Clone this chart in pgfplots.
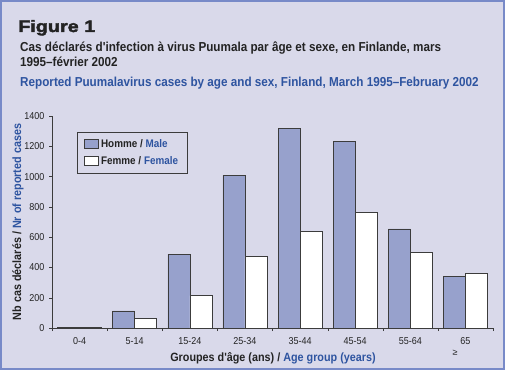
\documentclass[border=0pt]{standalone}
\usepackage{pgfplots}
\pgfplotsset{compat=1.18}
\usepackage{fontspec}
\setmainfont{Liberation Sans}
\newfontfamily\cond[FakeStretch=0.9]{Liberation Sans}
\newfontfamily\heavy[FakeBold=2.4,FakeStretch=1.2]{Liberation Sans}
\definecolor{bg}{RGB}{217,217,234}
\definecolor{frame}{RGB}{120,138,200}
\definecolor{male}{RGB}{151,161,204}
\definecolor{tblue}{RGB}{46,84,160}
\definecolor{txt}{RGB}{35,35,35}
\definecolor{edge}{RGB}{60,60,60}
\begin{document}
\begin{tikzpicture}[x=1pt,y=1pt]
\useasboundingbox (0,0) rectangle (505,370);
\fill[bg] (0,0) rectangle (505,370);
\draw[frame,line width=2pt] (1,1) rectangle (504,369);
% titles
\node[anchor=base west,inner sep=0,text=txt] at (18,338) {\heavy\fontsize{16.5}{18}\selectfont\bfseries Figure 1};
\node[anchor=base west,inner sep=0,text=txt] at (20,318) {\cond\fontsize{13}{15}\selectfont\bfseries Cas déclarés d'infection à virus Puumala par âge et sexe, en Finlande, mars};
\node[anchor=base west,inner sep=0,text=txt] at (20,303) {\cond\fontsize{13}{15}\selectfont\bfseries 1995–février 2002};
\node[anchor=base west,inner sep=0,text=tblue] at (20,283) {\cond\fontsize{13}{15}\selectfont\bfseries Reported Puumalavirus cases by age and sex, Finland, March 1995–February 2002};
% axis labels
\node[rotate=90,inner sep=0,text=txt] at (18,148) {\cond\fontsize{12}{14}\selectfont\bfseries Nb cas déclarés / \textcolor{tblue}{Nr of reported cases}};
\node[anchor=base,inner sep=0,text=txt] at (273,9) {\cond\fontsize{12}{14}\selectfont\bfseries Groupes d'âge (ans) / \textcolor{tblue}{Age group (years)}};
\node[inner sep=0,text=txt] at (455,17) {\fontsize{9}{10}\selectfont ≥};
\begin{axis}[
  at={(52pt,42pt)}, anchor=south west,
  scale only axis, width=441pt, height=212pt,
  xmin=-0.5, xmax=7.5, ymin=0, ymax=1400,
  axis x line*=bottom, axis y line*=left,
  axis line style={edge,-},
  tick align=outside,
  xtick={0,...,7},
  xticklabels={0-4,5-14,15-24,25-34,35-44,45-54,55-64,65},
  major x tick style={draw=none},
  minor xtick={-0.5,0.5,...,7.5},
  minor x tick style={edge},
  minor tick length=3pt,
  ytick={0,200,...,1400},
  major y tick style={edge},
  major tick length=3pt,
  tick label style={font=\cond\fontsize{10}{11}\selectfont, text=txt},
  /pgf/number format/assume math mode=true,
  /pgf/number format/1000 sep={},
  yticklabel style={xshift=-1pt},
  xticklabel style={yshift=-3pt},
  ybar=0pt, bar width=22pt,
  legend style={at={(0.057,0.925)}, anchor=north west, draw=edge, fill=bg,
    font=\cond\fontsize{11}{13}\selectfont\bfseries, text=txt,
    inner xsep=7pt, inner ysep=5pt, row sep=4pt, line width=0.7pt},
  legend cell align=left,
  legend image code/.code={\draw[#1] (0pt,-4pt) rectangle (14pt,5pt);},
]
\addplot[fill=male, draw=edge, line width=0.6pt] coordinates {(0,5) (1,113) (2,487) (3,1008) (4,1317) (5,1231) (6,654) (7,343)};
\addplot[fill=white, draw=edge, line width=0.6pt] coordinates {(0,3) (1,66) (2,214) (3,474) (4,637) (5,764) (6,498) (7,359)};
\legend{Homme / \textcolor{tblue}{Male}, Femme / \textcolor{tblue}{Female}}
\end{axis}
\end{tikzpicture}
\end{document}
